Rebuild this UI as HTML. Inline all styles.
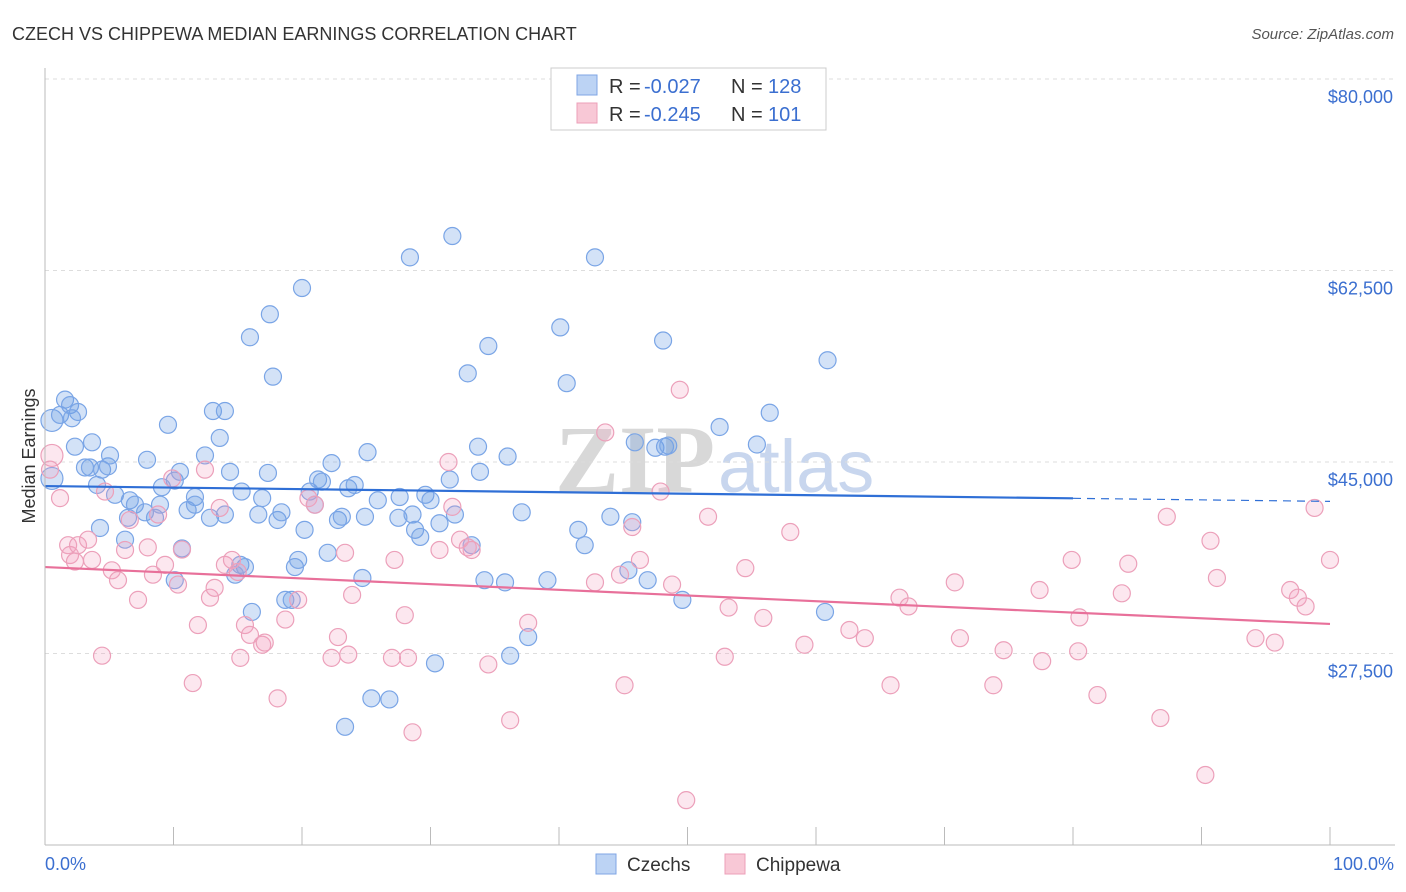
<!DOCTYPE html>
<html><head><meta charset="utf-8"><style>
body{margin:0;background:#fff;font-family:"Liberation Sans",sans-serif;}
#wrap{position:relative;width:1406px;height:892px;overflow:hidden}
</style></head><body>
<div id="wrap">
<svg id="svg" width="1406" height="892" xmlns="http://www.w3.org/2000/svg">
<text x="12" y="40" font-size="18" fill="#333">CZECH VS CHIPPEWA MEDIAN EARNINGS CORRELATION CHART</text>
<text x="1394" y="39" font-size="15" fill="#555" text-anchor="end" font-style="italic">Source: ZipAtlas.com</text>
<text x="35" y="456" font-size="18" fill="#333" text-anchor="middle" transform="rotate(-90 35 456)">Median Earnings</text>
<g>
<text x="555" y="492" font-size="96" font-family="Liberation Serif,serif" fill="#d8d8d8" font-weight="bold">ZIP</text>
<text x="718" y="492" font-size="74" fill="#c8d6ee">atlas</text>
</g>
<g id="grid"></g><g id="pts"></g><g id="lines"></g>
<line x1="45" y1="845" x2="1395" y2="845" stroke="#bbb"/>
<line x1="45" y1="68" x2="45" y2="845" stroke="#bbb"/>
<text x="45" y="870" font-size="18" fill="#3b6fd0">0.0%</text>
<text x="1394" y="870" font-size="18" fill="#3b6fd0" text-anchor="end">100.0%</text>
<g>
<rect x="551" y="68" width="275" height="62" fill="#fff" stroke="#ccc"/>
<rect x="577" y="75" width="20" height="20" fill="#bcd3f4" stroke="#7fa6e4"/>
<rect x="577" y="103" width="20" height="20" fill="#f8c8d6" stroke="#ec9fb8"/>
<text x="609" y="93" font-size="20" fill="#333">R = </text>
<text x="644" y="93" font-size="20" fill="#3b6fd0">-0.027</text>
<text x="731" y="93" font-size="20" fill="#333">N = </text>
<text x="768" y="93" font-size="20" fill="#3b6fd0">128</text>
<text x="609" y="121" font-size="20" fill="#333">R = </text>
<text x="644" y="121" font-size="20" fill="#3b6fd0">-0.245</text>
<text x="731" y="121" font-size="20" fill="#333">N = </text>
<text x="768" y="121" font-size="20" fill="#3b6fd0">101</text>
</g>
<g>
<rect x="596" y="854" width="20" height="20" fill="#bcd3f4" stroke="#7fa6e4"/>
<text x="627" y="871" font-size="19" fill="#333">Czechs</text>
<rect x="725" y="854" width="20" height="20" fill="#f8c8d6" stroke="#ec9fb8"/>
<text x="756" y="871" font-size="19" fill="#333">Chippewa</text>
</g>
</svg>
</div>
<script>
const yTicks=[80000,62500,45000,27500];
const yTickLabels=["$80,000","$62,500","$45,000","$27,500"];
const xTicks=[10,20,30,40,50,60,70,80,90,100];
const czX=[.54,.54,1.56,1.17,1.95,2.57,2.1,2.33,3.66,3.11,3.5,4.44,4.9,5.06,4.05,5.45,4.28,6.23,6.6,7.0,6.46,7.78,7.94,8.56,8.95,9.1,9.57,10.1,10.5,10.66,10.1,11.1,11.67,11.67,12.45,12.84,13.07,14.0,13.6,14.4,14.0,15.3,15.2,15.56,14.8,15.95,16.1,16.6,16.9,17.35,17.5,17.74,18.1,18.4,18.7,19.2,19.45,19.7,20.0,20.2,20.6,21.0,21.25,21.55,22.0,22.3,22.8,23.1,23.35,23.6,24.1,24.7,24.9,25.1,25.4,25.9,26.8,27.5,27.6,28.4,28.6,28.8,29.2,29.6,30.0,30.35,30.7,31.5,31.7,31.9,32.9,33.2,33.7,33.85,34.2,34.5,35.8,36.0,36.2,37.1,37.6,39.1,40.1,40.6,41.5,42.0,42.8,44.0,45.4,45.7,45.9,46.9,47.5,48.1,48.25,48.5,49.6,52.5,55.4,56.4,60.7,60.9];
const czY=[48.8,43.5,50.7,49.3,50.2,49.57,49.0,46.4,46.8,44.5,44.5,44.3,44.6,45.6,42.9,42.0,38.97,37.9,41.5,41.1,39.9,40.4,45.2,39.9,41.1,42.7,48.4,43.3,44.1,37.1,34.2,40.6,41.8,41.1,45.6,39.9,49.66,49.66,47.2,44.1,40.2,42.3,35.6,35.4,34.7,56.4,31.3,40.2,41.7,44.0,58.5,52.8,39.7,40.4,32.4,32.4,35.4,36.05,60.9,38.8,42.3,41.1,43.4,43.2,36.7,44.9,39.7,40.0,20.8,42.6,42.9,34.4,40.0,45.9,23.4,41.5,23.3,39.9,41.8,63.7,40.2,38.8,38.15,42.0,41.5,26.6,39.4,43.4,65.65,40.2,53.1,37.4,46.4,44.1,34.2,55.6,34.0,45.5,27.3,40.4,29.0,34.2,57.3,52.2,38.8,37.4,63.7,40.0,35.1,39.5,46.8,34.2,46.3,56.1,46.4,46.5,32.4,48.2,46.6,49.5,31.3,54.3];
const chX=[.54,.39,1.17,1.8,1.95,2.57,2.33,3.35,3.66,4.44,4.67,5.2,5.68,6.23,6.6,7.24,8.0,8.4,8.8,9.34,9.9,10.35,10.66,11.5,11.9,12.45,12.84,13.2,13.6,14.0,14.55,15.0,15.2,15.56,15.95,16.9,17.1,18.1,18.7,19.7,20.5,21.0,22.3,22.8,23.35,23.6,23.9,27.0,27.2,28.0,28.25,28.6,30.7,31.4,31.7,32.3,32.9,33.2,34.5,36.2,37.6,42.8,43.6,44.75,45.1,45.7,46.3,47.9,48.8,49.4,49.9,51.6,52.9,53.2,54.5,55.9,58.0,59.1,62.6,63.8,65.8,66.5,67.2,70.8,71.2,73.8,74.6,77.4,77.6,79.9,80.5,80.4,81.9,83.8,84.3,86.8,87.3,90.3,90.7,91.2,94.2,95.7,96.9,97.5,98.1,98.8,100];
const chY=[45.6,44.3,41.7,37.4,36.5,37.4,35.9,37.9,36.05,27.3,42.3,35.1,34.2,36.96,39.7,32.4,37.2,34.7,40.2,35.6,43.5,33.8,37.0,24.8,30.1,44.3,32.6,33.5,40.8,35.6,36.05,34.95,27.1,30.1,29.2,28.3,28.5,23.4,30.6,32.4,41.7,41.1,27.1,29.0,36.7,27.4,32.85,27.1,36.05,31.0,27.1,20.3,36.96,45.0,40.9,37.9,37.2,36.96,26.5,21.4,30.3,34.0,47.7,34.7,24.6,39.06,36.05,42.3,33.8,51.6,14.1,40.0,27.2,31.7,35.3,30.75,38.6,28.3,29.65,28.9,24.6,32.6,31.8,34.0,28.9,24.6,27.8,33.3,26.8,36.05,30.8,27.7,23.7,33.0,35.7,21.6,40.0,16.4,37.8,34.4,28.9,28.5,33.3,32.6,31.8,40.8,36.05];
const czTrend=[42.8,41.4];
const chTrend=[35.4,30.2];
const NS="http://www.w3.org/2000/svg";
const sx=p=>45+p*12.85;
const sy=k=>79+(80-k)*191.5/17.5;
function mk(tag,attrs,parent){const e=document.createElementNS(NS,tag);for(const k in attrs)e.setAttribute(k,attrs[k]);parent.appendChild(e);return e;}
const grid=document.getElementById('grid');
yTicks.forEach((v,i)=>{
  const y=sy(v/1000);
  const l=mk('line',{x1:45,x2:1395,y1:y,y2:y,stroke:'#ddd','stroke-dasharray':'4,4'},grid);
  
  
  const t=mk('text',{x:1393,y:y+24,'font-size':18,fill:'#3b6fd0','text-anchor':'end'},grid);
  t.textContent=yTickLabels[i];
  
  
});
xTicks.forEach(p=>{
  const l=mk('line',{x1:sx(p),x2:sx(p),y1:827,y2:845,stroke:'#bbb'},grid);
  
  
});
const pts=document.getElementById('pts');
czX.forEach((x,i)=>{
  const c=mk('circle',{cx:sx(x),cy:sy(czY[i]),r:i<2?11:8.5,fill:'rgba(110,160,230,0.3)',stroke:'#7aa5e6','stroke-width':1.2},pts);
  
  
});
chX.forEach((x,i)=>{
  const c=mk('circle',{cx:sx(x),cy:sy(chY[i]),r:i<1?11:8.5,fill:'rgba(245,160,190,0.25)',stroke:'#eca0ba','stroke-width':1.2},pts);
  
  
});
const lines=document.getElementById('lines');
const czAt=p=>czTrend[0]+(czTrend[1]-czTrend[0])*p/100;
let l1=mk('line',{x1:sx(0),y1:sy(czAt(0)),x2:sx(80),y2:sy(czAt(80)),stroke:'#2f6fd6','stroke-width':2.2},lines);


let l2=mk('line',{x1:sx(80),y1:sy(czAt(80)),x2:sx(100),y2:sy(czAt(100)),stroke:'#2f6fd6','stroke-width':1.2,'stroke-dasharray':'8,6'},lines);


let l3=mk('line',{x1:sx(0),y1:sy(chTrend[0]),x2:sx(100),y2:sy(chTrend[1]),stroke:'#e8709a','stroke-width':2.2},lines);


</script>
</body></html>
